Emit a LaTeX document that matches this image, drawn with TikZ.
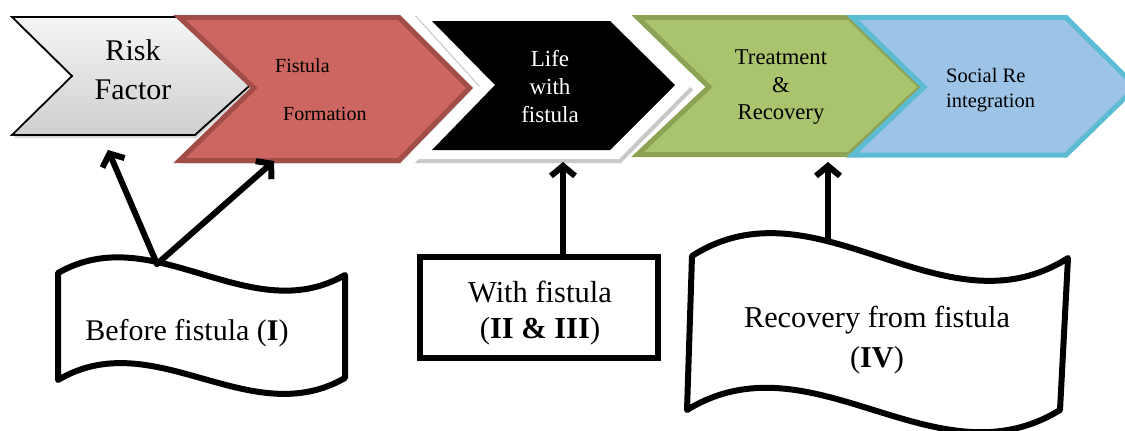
\documentclass[tikz,border=0pt]{standalone}
\usepackage{fontspec}
\setmainfont{Liberation Serif}
\usetikzlibrary{arrows.meta,shadows}
\definecolor{redfill}{HTML}{CD6660}
\definecolor{redline}{HTML}{A24D48}
\definecolor{greenfill}{HTML}{AAC36D}
\definecolor{greenline}{HTML}{8CA254}
\definecolor{bluefill}{HTML}{9DC3E6}
\definecolor{blueline}{HTML}{5BBCD3}
\tikzset{
  conn/.style={line width=6pt, line cap=round, -{Straight Barb[length=10pt,width=24pt]}},
  wavebox/.style={draw=black, line width=6pt, line join=round, fill=white},
  softshadow/.style={drop shadow={opacity=0.25, shadow xshift=1.5pt, shadow yshift=-3pt, fill=black!60}},
  lbl/.style={inner sep=0pt, align=center}
}
\begin{document}
\begin{tikzpicture}[x=1pt,y=-1pt]
\clip (0,0) rectangle (1125,431);
\fill[white] (0,0) rectangle (1125,431);

% chevrons
\path[softshadow, draw=black, line width=1.8pt, top color=gray!8, bottom color=gray!38, line join=miter]
  (12,17) -- (190,17) -- (258,78) -- (195,135) -- (12,135) -- (72,76) -- cycle;
\path[softshadow, fill=redfill, draw=redline, line width=5pt, line join=miter]
  (179.5,17.5) -- (399,17.5) -- (469.5,88) -- (399,160.5) -- (179.5,160.5) -- (254,88) -- cycle;
\path[drop shadow={opacity=0.3, shadow xshift=2pt, shadow yshift=-4pt, fill=black!70}, fill=white]
  (413,12) -- (619,12) -- (691,86) -- (619,159) -- (413,159) -- (480,86) -- cycle;
\path[fill=black]
  (432,21) -- (610,21) -- (675,85) -- (610,150) -- (432,150) -- (495,85) -- cycle;
\path[fill=greenfill, draw=greenline, line width=5pt, line join=miter]
  (637.5,17.5) -- (849,17.5) -- (921,87) -- (849,154.5) -- (637.5,154.5) -- (709,87) -- cycle;
\path[fill=bluefill, draw=blueline, line width=5pt, line join=miter]
  (852.5,17.5) -- (1066,17.5) -- (1136,87) -- (1066,155) -- (852.5,155) -- (924,87) -- cycle;

% chevron texts
\node[lbl, font=\fontsize{30}{39}\selectfont] (risk) at (133,70) {Risk\\Factor};
\node[inner sep=0pt, anchor=base west, font=\fontsize{20}{24}\selectfont] (fist1) at (275,72) {Fistula};
\node[inner sep=0pt, anchor=base west, font=\fontsize{20}{24}\selectfont] (fist2) at (283,120) {Formation};
\node[lbl, text=white, font=\fontsize{23}{28}\selectfont] (life) at (550,87) {Life\\with\\fistula};
\node[lbl, font=\fontsize{22.6}{27.5}\selectfont] (treat) at (781,87.5) {Treatment\\\&\\Recovery};
\node[inner sep=0pt, align=left, anchor=west, font=\fontsize{20.5}{25}\selectfont] (social) at (946,90) {Social Re\\integration};

% bottom boxes
\path[wavebox] (58,273) .. controls (154,218) and (249,330) .. (345,275)
  -- (345,378) .. controls (249,433) and (154,323) .. (58,380) -- cycle;
\node[inner sep=0pt, anchor=base, font=\fontsize{30}{36}\selectfont] (before) at (187,340) {Before fistula (\textbf{I})};

\node[draw, line width=6pt, minimum width=238pt, minimum height=101pt, inner sep=0pt] (withbox) at (539,307.5) {};
\node[lbl, font=\fontsize{30.5}{36}\selectfont] (withtxt) at (540,313) {With fistula\\(\textbf{II \& III})};

\path[wavebox] (692,256) .. controls (817,176) and (943,338) .. (1068,258)
  -- (1060,410) .. controls (935,487) and (812,333) .. (687,410) -- cycle;
\node[lbl, font=\fontsize{30.3}{40}\selectfont] (recov) at (877,340) {Recovery from fistula\\(\textbf{IV})};

% connectors
\coordinate (a1s) at (157,264);
\coordinate (riskend) at (108,150);
\coordinate (fistend) at (274,161);
\coordinate (a2s) at (563,254);
\coordinate (lifeend) at (563,162);
\coordinate (a3s) at (828,240);
\coordinate (treatend) at (828,162);
\draw[conn] (a1s) -- (riskend);
\draw[conn] (a1s) -- (fistend);
\draw[conn] (a2s) -- (lifeend);
\draw[conn] (a3s) -- (treatend);
\end{tikzpicture}
\end{document}
